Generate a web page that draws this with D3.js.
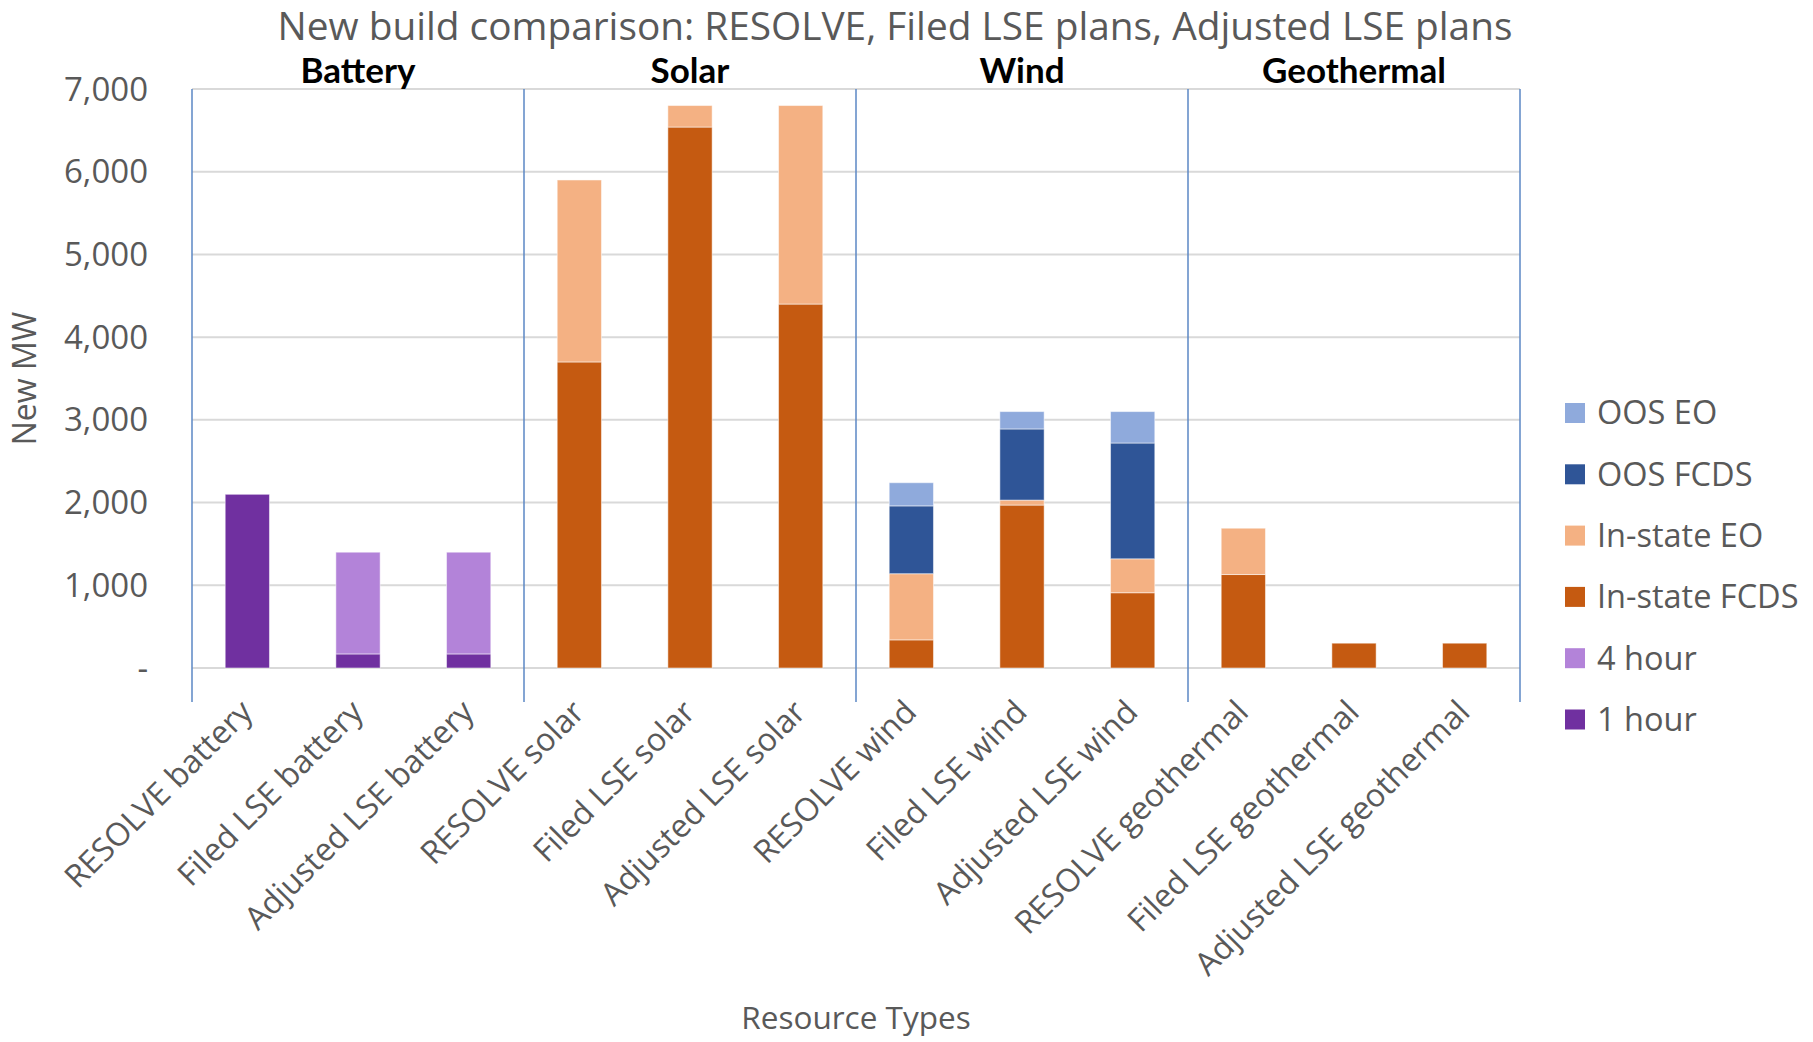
<!DOCTYPE html>
<html>
<head>
<meta charset="utf-8">
<script src="https://cdn.jsdelivr.net/npm/d3@7"></script>
<style>
  body { margin: 0; background: #fff; }
  svg { display: block; font-family: "Open Sans", "Noto Sans", sans-serif; }
</style>
</head>
<body>
<div id="chart"></div>
<script>
// categories and group labels
const categories = [
  'RESOLVE battery', 'Filed LSE battery', 'Adjusted LSE battery',
  'RESOLVE solar', 'Filed LSE solar', 'Adjusted LSE solar',
  'RESOLVE wind', 'Filed LSE wind', 'Adjusted LSE wind',
  'RESOLVE geothermal', 'Filed LSE geothermal', 'Adjusted LSE geothermal'
];
const groups = ['Battery', 'Solar', 'Wind', 'Geothermal'];

// series values (MW), stacked bottom to top
const oneHour      = [2100, 170, 170, 0, 0, 0, 0, 0, 0, 0, 0, 0];
const fourHour     = [0, 1230, 1230, 0, 0, 0, 0, 0, 0, 0, 0, 0];
const inStateFCDS  = [0, 0, 0, 3700, 6540, 4400, 340, 1970, 910, 1130, 300, 300];
const inStateEO    = [0, 0, 0, 2200, 260, 2400, 800, 60, 410, 560, 0, 0];
const oosFCDS      = [0, 0, 0, 0, 0, 0, 820, 860, 1400, 0, 0, 0];
const oosEO        = [0, 0, 0, 0, 0, 0, 280, 210, 380, 0, 0, 0];

const yTicks = [0, 1000, 2000, 3000, 4000, 5000, 6000, 7000];

const seriesNames = ['1 hour', '4 hour', 'In-state FCDS', 'In-state EO', 'OOS FCDS', 'OOS EO'];
const seriesValues = [oneHour, fourHour, inStateFCDS, inStateEO, oosFCDS, oosEO];
const colors = ['#7030A0', '#B383D9', '#C55A11', '#F4B183', '#2F5597', '#8FAADC'];

const W = 1813, H = 1042;
const plotLeft = 192, plotRight = 1520, plotTop = 89, plotBottom = 668;
const textColor = '#595959';

const svg = d3.select('#chart').append('svg')
  .attr('width', W).attr('height', H);

const x = d3.scaleBand()
  .domain(categories)
  .range([plotLeft, plotRight])
  .paddingInner(0.6)
  .paddingOuter(0.3);

const y = d3.scaleLinear().domain([0, 7000]).range([plotBottom, plotTop]);

// gridlines
svg.append('g')
  .selectAll('line')
  .data(yTicks)
  .join('line')
  .attr('x1', plotLeft).attr('x2', plotRight)
  .attr('y1', d => y(d)).attr('y2', d => y(d))
  .attr('stroke', '#D9D9D9')
  .attr('stroke-width', 2);

// y tick labels
svg.append('g')
  .selectAll('text')
  .data(yTicks)
  .join('text')
  .attr('x', 148)
  .attr('y', d => y(d))
  .attr('dy', '0.35em')
  .attr('text-anchor', 'end')
  .attr('fill', textColor)
  .style('font-size', '33px')
  .text(d => d === 0 ? '-' : d3.format(',')(d));

// stacked data
const table = categories.map((c, i) => {
  const row = { cat: c };
  seriesNames.forEach((s, j) => { row[s] = seriesValues[j][i]; });
  return row;
});
const stacked = d3.stack().keys(seriesNames)(table);

svg.append('g')
  .selectAll('g')
  .data(stacked)
  .join('g')
  .attr('fill', (d, i) => colors[i])
  .selectAll('rect')
  .data(d => d.filter(p => p[1] - p[0] > 0))
  .join('rect')
  .attr('x', d => x(d.data.cat))
  .attr('width', x.bandwidth())
  .attr('y', d => y(d[1]))
  .attr('height', d => y(d[0]) - y(d[1]))
  .attr('stroke', '#ffffff')
  .attr('stroke-opacity', 0.5)
  .attr('stroke-width', 1);

// group dividers
const step = x.step();
const dividers = d3.range(groups.length + 1).map(i => plotLeft + i * 3 * step);
svg.append('g')
  .selectAll('line')
  .data(dividers)
  .join('line')
  .attr('x1', d => d).attr('x2', d => d)
  .attr('y1', plotTop).attr('y2', 702)
  .attr('stroke', '#5B87C5')
  .attr('stroke-width', 1.5);

// group labels
svg.append('g')
  .selectAll('text')
  .data(groups)
  .join('text')
  .attr('x', (d, i) => plotLeft + (i * 3 + 1.5) * step)
  .attr('y', 83)
  .attr('text-anchor', 'middle')
  .attr('font-weight', 'bold')
  .attr('fill', '#000')
  .style('font-family', 'Lato, sans-serif')
  .style('font-size', '35px')
  .text(d => d);

// category labels, rotated
svg.append('g')
  .selectAll('text')
  .data(categories)
  .join('text')
  .attr('transform', d => `translate(${x(d) + x.bandwidth() / 2 - 1},${706}) rotate(-45)`)
  .attr('text-anchor', 'end')
  .attr('dy', '0.35em')
  .attr('fill', textColor)
  .style('font-size', '32px')
  .text(d => d);

// title
svg.append('text')
  .attr('x', 895).attr('y', 40)
  .attr('text-anchor', 'middle')
  .attr('fill', textColor)
  .style('font-size', '38.8px')
  .text('New build comparison: RESOLVE, Filed LSE plans, Adjusted LSE plans');

// axis titles
svg.append('text')
  .attr('transform', `translate(36,${(plotTop + plotBottom) / 2}) rotate(-90)`)
  .attr('text-anchor', 'middle')
  .attr('fill', textColor)
  .style('font-size', '32px')
  .text('New MW');

svg.append('text')
  .attr('x', (plotLeft + plotRight) / 2).attr('y', 1029)
  .attr('text-anchor', 'middle')
  .attr('fill', textColor)
  .style('font-size', '31.5px')
  .text('Resource Types');

// legend
const legendOrder = seriesNames.map((s, i) => ({ name: s, color: colors[i] })).reverse();
const legend = svg.append('g')
  .selectAll('g')
  .data(legendOrder)
  .join('g')
  .attr('transform', (d, i) => `translate(1565,${413 + i * 61.3})`);

legend.append('rect')
  .attr('x', 0).attr('y', -10)
  .attr('width', 20).attr('height', 20)
  .attr('fill', d => d.color);

legend.append('text')
  .attr('x', 32).attr('y', 0)
  .attr('dy', '0.35em')
  .attr('fill', textColor)
  .style('font-size', '32.5px')
  .text(d => d.name);
</script>
</body>
</html>
